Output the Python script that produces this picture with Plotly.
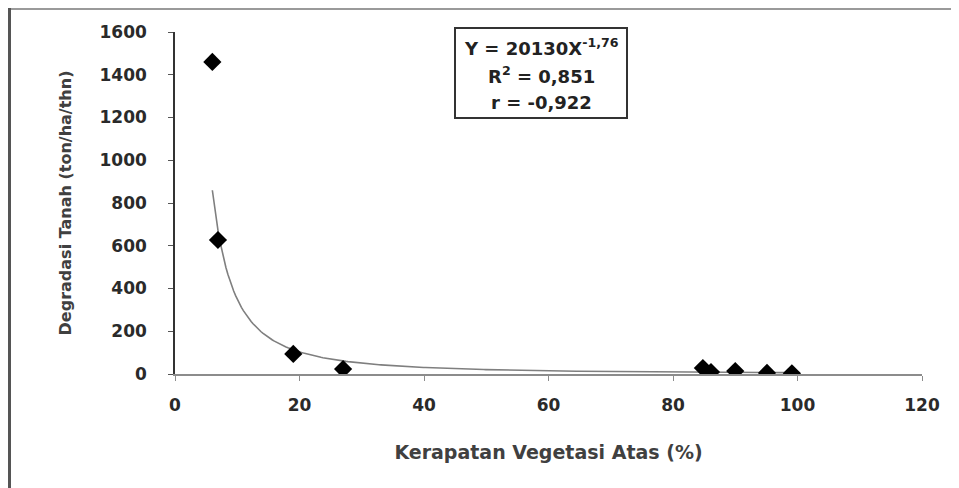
import numpy as np
import plotly.graph_objects as go

# Data
kerapatan = [6.0, 6.9, 19.0, 27.0, 84.8, 86.1, 90.0, 95.1, 99.1]
degradasi = [1460, 627, 94, 23, 28, 9, 14, 5, 3]

# Displayed power trendline: Y = 20130 X^-1.76
coef_a = 20130
coef_b = -1.76

x_ticks = [0, 20, 40, 60, 80, 100, 120]
y_ticks = [0, 200, 400, 600, 800, 1000, 1200, 1400, 1600]

OFF = 8  # page body margin
W, H = 959 - OFF, 488 - OFF
L, R, T, B = 175 - OFF, 37, 32 - OFF, 114
pw, ph = W - L - R, H - T - B


def px(x):
    return (x - OFF - L) / pw


def py(y):
    return (H - B - (y - OFF)) / ph


xt = np.linspace(min(kerapatan), max(kerapatan), 300)
yt = coef_a * xt ** coef_b

fig = go.Figure()
fig.add_trace(go.Scatter(x=xt, y=yt, mode="lines",
                         line=dict(color="#7f7f7f", width=1.6),
                         hoverinfo="skip", showlegend=False))
fig.add_trace(go.Scatter(x=kerapatan, y=degradasi, mode="markers",
                         marker=dict(symbol="diamond", size=14, color="#000000"),
                         showlegend=False))

tick_font = dict(family="DejaVu Sans", size=17, color="#2a2a2a", weight="bold")

fig.update_layout(
    width=W, height=H,
    margin=dict(l=L, r=R, t=T, b=B),
    paper_bgcolor="white", plot_bgcolor="white",
    xaxis=dict(range=[0, 120], tickvals=x_ticks, showgrid=False, zeroline=False,
               showline=True, linecolor="#8c8c8c", linewidth=2,
               ticks="outside", ticklen=5, tickcolor="#8c8c8c", tickwidth=1,
               tickfont=tick_font, ticklabelstandoff=10,
               title=dict(text="<b>Kerapatan Vegetasi Atas (%)</b>",
                          font=dict(family="DejaVu Sans", size=19, color="#404040"),
                          standoff=31)),
    yaxis=dict(range=[0, 1600], tickvals=y_ticks, showgrid=False, zeroline=False,
               showline=True, linecolor="#333333", linewidth=1.5,
               ticks="outside", ticklen=5, tickcolor="#555555", tickwidth=1,
               tickfont=tick_font, ticklabelstandoff=18,
               title=dict(text="<b>Degradasi Tanah (ton/ha/thn)</b>",
                          font=dict(family="DejaVu Sans", size=16, color="#404040"),
                          standoff=24)),
    shapes=[
        dict(type="rect", xref="paper", yref="paper",
             x0=px(455), x1=px(627), y0=py(118), y1=py(28),
             line=dict(color="#333333", width=2), fillcolor="white", layer="above"),
        dict(type="line", xref="paper", yref="paper",
             x0=px(8), x1=px(959), y0=py(9), y1=py(9),
             line=dict(color="#9a9a9a", width=2)),
        dict(type="line", xref="paper", yref="paper",
             x0=px(9.5), x1=px(9.5), y0=py(8), y1=py(488),
             line=dict(color="#555555", width=3)),
    ],
)

box_font = dict(family="DejaVu Sans", size=18, color="#222222")
lines = [
    ("<b>Y = 20130X<sup>-1,76</sup></b>", 47),
    ("<b>R<sup>2</sup> = 0,851</b>", 75),
    ("<b>r = -0,922</b>", 102),
]
for txt, yy in lines:
    fig.add_annotation(text=txt, xref="paper", yref="paper", x=px(541), y=py(yy),
                       xanchor="center", yanchor="middle", showarrow=False, font=box_font)

fig.write_html("out.html")
